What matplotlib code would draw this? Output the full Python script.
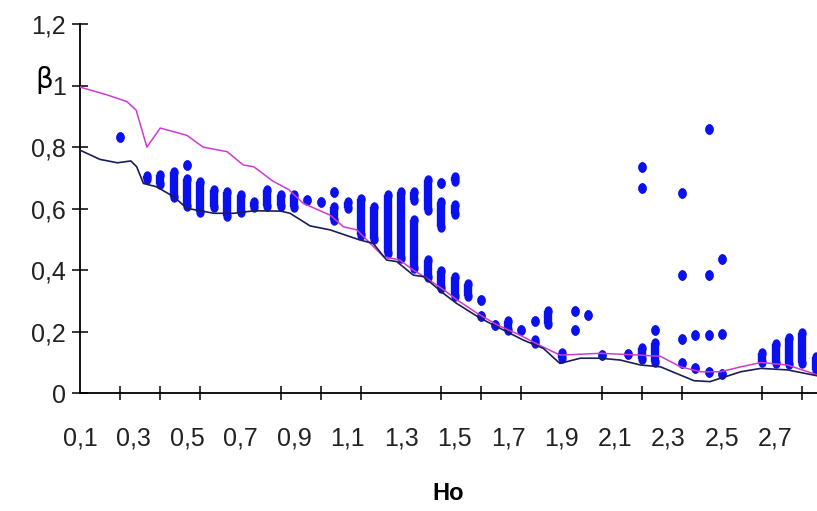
import matplotlib
matplotlib.use('Agg')
from matplotlib import pyplot as plt
from matplotlib.path import Path
import numpy as np

# lines
upper_x = [0.1, 0.2, 0.275, 0.31, 0.35, 0.40, 0.50, 0.56, 0.65, 0.71, 0.75, 0.82, 0.88,
           0.935, 1.035, 1.085, 1.135, 1.185, 1.235, 1.295, 1.345, 1.395, 1.46, 1.51,
           1.585, 1.66, 1.735, 1.83, 1.895, 2.045, 2.195, 2.27, 2.345, 2.42, 2.495,
           2.57, 2.645, 2.745, 2.855]
upper_y = [0.995, 0.97, 0.948, 0.92, 0.80, 0.862, 0.838, 0.80, 0.785, 0.742, 0.736, 0.69,
           0.662, 0.617, 0.579, 0.541, 0.531, 0.487, 0.444, 0.433, 0.401, 0.374, 0.336,
           0.303, 0.26, 0.222, 0.193, 0.151, 0.124, 0.13, 0.124, 0.12, 0.086, 0.07,
           0.07, 0.086, 0.10, 0.092, 0.06]

lower_x = [0.1, 0.175, 0.24, 0.29, 0.312, 0.337, 0.386, 0.45, 0.5, 0.6, 0.675, 0.75,
           0.85, 0.885, 0.96, 1.035, 1.147, 1.196, 1.246, 1.284, 1.346, 1.384, 1.458,
           1.508, 1.596, 1.682, 1.757, 1.832, 1.894, 1.97, 2.045, 2.12, 2.195, 2.27,
           2.345, 2.395, 2.455, 2.495, 2.57, 2.645, 2.745, 2.855]
lower_y = [0.79, 0.76, 0.749, 0.755, 0.736, 0.682, 0.671, 0.639, 0.601, 0.585, 0.585,
           0.593, 0.592, 0.585, 0.544, 0.531, 0.498, 0.487, 0.433, 0.428, 0.384, 0.379,
           0.325, 0.292, 0.244, 0.206, 0.173, 0.146, 0.097, 0.114, 0.114, 0.108, 0.092,
           0.086, 0.059, 0.041, 0.038, 0.049, 0.07, 0.081, 0.076, 0.057]

# measured points: x, lowest and highest value of each run of overlapping dots
pts_x = [0.25, 0.35, 0.40, 0.45, 0.50, 0.50, 0.55, 0.60, 0.65, 0.70, 0.75, 0.80, 0.85,
         0.90, 0.95, 1.00, 1.05, 1.05, 1.10, 1.15, 1.20, 1.25, 1.30, 1.35, 1.35, 1.40,
         1.40, 1.45, 1.45, 1.45, 1.50, 1.50, 1.50, 1.55, 1.60, 1.60, 1.65, 1.70, 1.75,
         1.80, 1.80, 1.85, 1.90, 1.95, 1.95, 2.00, 2.05, 2.15, 2.20, 2.20, 2.20, 2.25,
         2.25, 2.35, 2.35, 2.35, 2.35, 2.40, 2.40, 2.45, 2.45, 2.45, 2.45, 2.50, 2.50,
         2.50, 2.65, 2.70, 2.75, 2.80, 2.85]
pts_lo = [0.832, 0.695, 0.68, 0.637, 0.742, 0.608, 0.59, 0.604, 0.577, 0.59, 0.606, 0.607,
          0.607, 0.606, 0.628, 0.623, 0.654, 0.563, 0.603, 0.515, 0.50, 0.455, 0.441,
          0.628, 0.406, 0.594, 0.379, 0.684, 0.541, 0.343, 0.69, 0.582, 0.316, 0.316,
          0.303, 0.251, 0.223, 0.206, 0.206, 0.236, 0.162, 0.224, 0.114, 0.266, 0.206,
          0.254, 0.124, 0.128, 0.736, 0.668, 0.11, 0.206, 0.103, 0.652, 0.384, 0.176,
          0.10, 0.188, 0.082, 0.86, 0.384, 0.19, 0.07, 0.436, 0.193, 0.064, 0.103, 0.097,
          0.094, 0.097, 0.076]
pts_hi = [0.832, 0.706, 0.708, 0.718, 0.742, 0.695, 0.686, 0.661, 0.653, 0.645, 0.623,
          0.661, 0.644, 0.644, 0.628, 0.623, 0.654, 0.606, 0.623, 0.632, 0.606, 0.643,
          0.655, 0.655, 0.563, 0.692, 0.433, 0.684, 0.623, 0.397, 0.704, 0.612, 0.379,
          0.354, 0.303, 0.251, 0.223, 0.235, 0.206, 0.236, 0.173, 0.267, 0.13, 0.266,
          0.206, 0.254, 0.124, 0.128, 0.736, 0.668, 0.146, 0.206, 0.162, 0.652, 0.384,
          0.176, 0.10, 0.188, 0.082, 0.86, 0.384, 0.19, 0.07, 0.436, 0.193, 0.064, 0.13,
          0.159, 0.179, 0.195, 0.119]

xtick_vals = [0.1, 0.3, 0.5, 0.7, 0.9, 1.1, 1.3, 1.5, 1.7, 1.9, 2.1, 2.3, 2.5, 2.7]
xtick_labels = ['0,1', '0,3', '0,5', '0,7', '0,9', '1,1', '1,3', '1,5', '1,7', '1,9',
                '2,1', '2,3', '2,5', '2,7']
ytick_vals = [0, 0.2, 0.4, 0.6, 0.8, 1.0, 1.2]
ytick_labels = ['0', '0,2', '0,4', '0,6', '0,8', '1', '1,2']

plt.rcParams['font.family'] = ['Liberation Sans', 'DejaVu Sans']

fig = plt.figure(figsize=(8.17, 5.11), dpi=100)
ax = fig.add_axes([80 / 817, 117.7 / 511, 737 / 817, 369.3 / 511])

# slightly tall oval dot
t = np.linspace(0, 2 * np.pi, 40)
oval = Path(np.column_stack([0.4 * np.cos(t), 0.5 * np.sin(t)]), closed=True)

blue = '#0a10ee'
ax.vlines(pts_x, pts_lo, pts_hi, colors=blue, linewidth=6.0, zorder=2)
ax.scatter(pts_x, pts_lo, marker=oval, s=56, color=blue, linewidths=0, zorder=2)
ax.scatter(pts_x, pts_hi, marker=oval, s=56, color=blue, linewidths=0, zorder=2)

ax.plot(upper_x, upper_y, color='#d03ad0', linewidth=1.1, zorder=3)
ax.plot(lower_x, lower_y, color='#1c1c5c', linewidth=1.2, zorder=3)

ax.set_xlim(0.1, 2.855)
ax.set_ylim(0, 1.2)

ax.spines['top'].set_visible(False)
ax.spines['right'].set_visible(False)
ax.spines['left'].set_linewidth(1.3)
ax.spines['bottom'].set_linewidth(1.3)

ax.set_xticks(xtick_vals)
ax.set_xticklabels(xtick_labels)
ax.set_xticks([0.1 + 0.15 * k for k in range(19)], minor=True)
ax.tick_params(axis='x', which='major', length=0, pad=24, labelsize=18, labelcolor='#222222')
ax.tick_params(axis='x', which='minor', direction='inout', length=10, width=1.1)

ax.set_yticks(ytick_vals)
ax.set_yticklabels(ytick_labels)
ax.tick_params(axis='y', which='major', direction='inout', length=12, width=1.1,
               pad=4, labelsize=18, labelcolor='#222222')

fig.text(44 / 817, 1 - 80 / 511, 'β', fontsize=20, ha='center', va='center',
         family=['DejaVu Sans'])
fig.text(448 / 817, 1 - 493 / 511, 'Ho', fontsize=17, fontweight='bold',
         ha='center', va='center')

fig.savefig('out.png', dpi=100)
